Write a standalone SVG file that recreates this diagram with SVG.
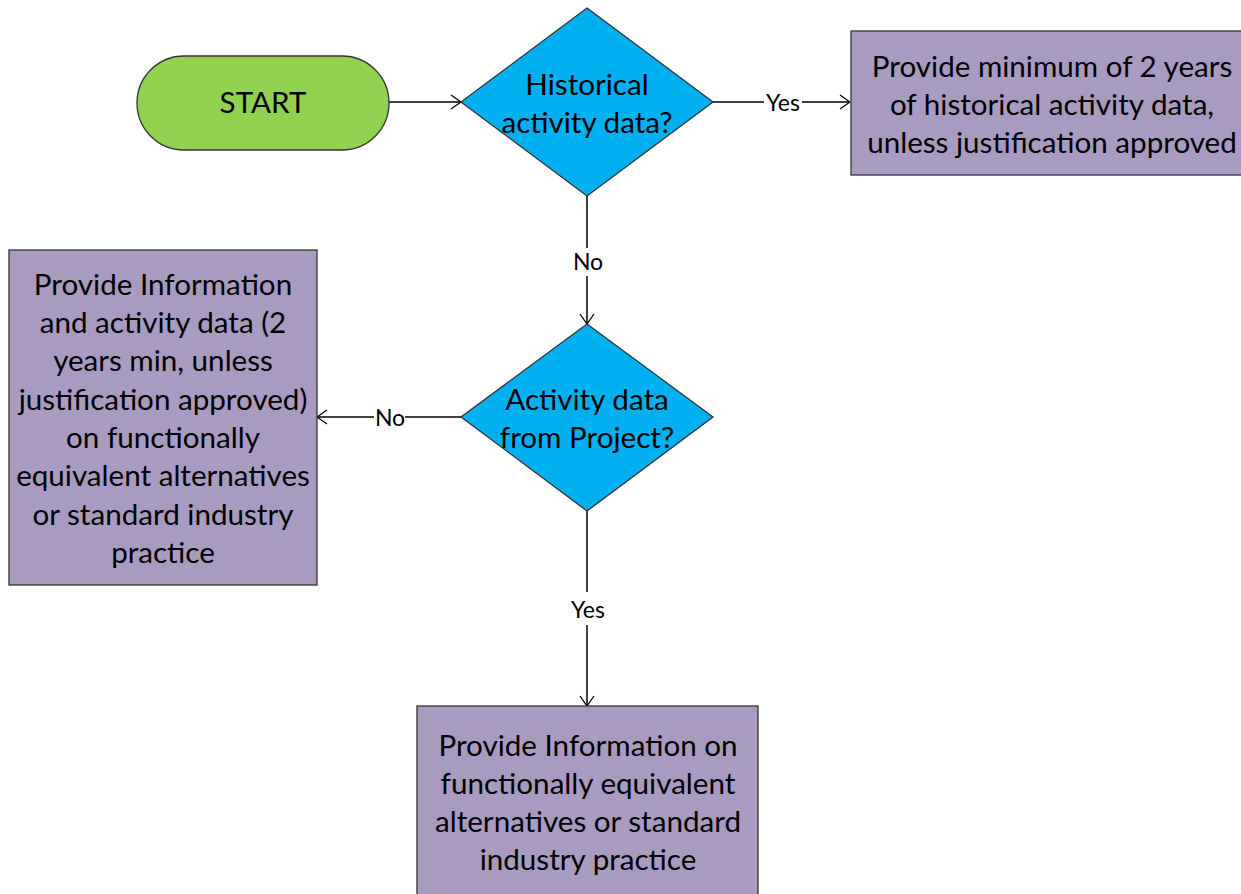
<svg xmlns="http://www.w3.org/2000/svg" width="1241" height="894" viewBox="0 0 1241 894">
<defs>
<marker id="arr" viewBox="0 0 12 16" markerWidth="12" markerHeight="16" refX="11" refY="8" orient="auto" markerUnits="userSpaceOnUse">
<path d="M1,1 L11,8 L1,15" fill="none" stroke="#000" stroke-width="1.3"/>
</marker>
<style>
.t{font-family:Lato,"Liberation Sans",sans-serif;font-size:29.6px;fill:#000;text-anchor:middle}
.l{font-family:Lato,"Liberation Sans",sans-serif;font-size:23px;fill:#000;text-anchor:middle}
.box{fill:#A99BC0;stroke:#333;stroke-width:1.3}
.dia{fill:#00B0F0;stroke:#333;stroke-width:1.3}
.c{fill:none;stroke:#000;stroke-width:1.5}
</style>
</defs>
<rect width="1241" height="894" fill="#fff"/>
<g id="connectors">
<line class="c" x1="389" y1="102" x2="461" y2="102" marker-end="url(#arr)"/>
<line class="c" x1="713" y1="102" x2="764" y2="102"/>
<line class="c" x1="802" y1="102" x2="850" y2="102" marker-end="url(#arr)"/>
<line class="c" x1="587" y1="196" x2="587" y2="248"/>
<line class="c" x1="587" y1="276" x2="587" y2="324" marker-end="url(#arr)"/>
<line class="c" x1="461" y1="417" x2="405" y2="417"/>
<line class="c" x1="374" y1="417" x2="317" y2="417" marker-end="url(#arr)"/>
<line class="c" x1="587" y1="511" x2="587" y2="592"/>
<line class="c" x1="587" y1="625" x2="587" y2="706" marker-end="url(#arr)"/>
<text class="l" x="783" y="111">Yes</text>
<text class="l" x="588" y="270">No</text>
<text class="l" x="390" y="426">No</text>
<text class="l" x="588" y="618">Yes</text>
</g>
<g id="start">
<rect x="137" y="56" width="252" height="94" rx="47" ry="47" fill="#92D050" stroke="#333" stroke-width="1.3"/>
<text class="t" x="263" y="113">START</text>
</g>
<g id="decision1">
<polygon class="dia" points="587,8 713,102 587,196 461,102"/>
<text class="t" x="587" y="95">Historical</text>
<text class="t" x="587" y="133">activity data?</text>
</g>
<g id="box-yes1">
<rect class="box" x="851" y="31" width="400" height="144"/>
<text class="t" x="1052" y="77">Provide minimum of 2 years</text>
<text class="t" x="1052" y="115">of historical activity data,</text>
<text class="t" x="1052" y="153">unless justification approved</text>
</g>
<g id="decision2">
<polygon class="dia" points="587,324 713,417 587,511 461,417"/>
<text class="t" x="587" y="410">Activity data</text>
<text class="t" x="587" y="448">from Project?</text>
</g>
<g id="box-no2">
<rect class="box" x="9" y="250" width="308" height="335"/>
<text class="t" x="163" y="295">Provide Information</text>
<text class="t" x="163" y="333">and activity data (2</text>
<text class="t" x="163" y="371">years min, unless</text>
<text class="t" x="163" y="410">justification approved)</text>
<text class="t" x="163" y="448">on functionally</text>
<text class="t" x="163" y="486">equivalent alternatives</text>
<text class="t" x="163" y="525">or standard industry</text>
<text class="t" x="163" y="563">practice</text>
</g>
<g id="box-yes2">
<rect class="box" x="417" y="706" width="341" height="200"/>
<text class="t" x="588" y="756">Provide Information on</text>
<text class="t" x="588" y="794">functionally equivalent</text>
<text class="t" x="588" y="832">alternatives or standard</text>
<text class="t" x="588" y="870">industry practice</text>
</g>
</svg>
